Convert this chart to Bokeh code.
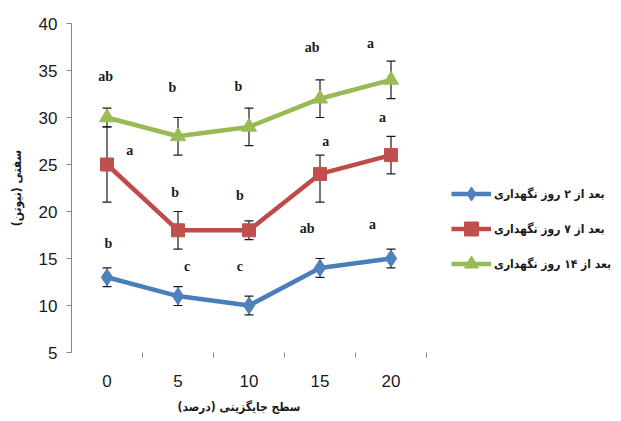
from bokeh.plotting import figure
from bokeh.models import (ColumnDataSource, Whisker, TeeHead, Legend, LegendItem,
                          FixedTicker, Range1d, Title)
from bokeh.core.properties import value
from bokeh.embed import file_html
from bokeh.resources import INLINE

# Replacement level (%) on the x axis
levels = [0, 5, 10, 15, 20]

# Firmness (N) after 2, 7 and 14 days of storage, with error bars
day2 = [13, 11, 10, 14, 15]
day2_err_lo = [1, 1, 1, 1, 1]
day2_err_hi = [1, 1, 1, 1, 1]

day7 = [25, 18, 18, 24, 26]
day7_err_lo = [4, 2, 1, 3, 2]
day7_err_hi = [4, 2, 1, 2, 2]

day14 = [30, 28, 29, 32, 34]
day14_err_lo = [1, 2, 2, 2, 2]
day14_err_hi = [1, 2, 2, 2, 2]

# Significance letters
day2_letters = ["b", "c", "c", "ab", "a"]
day7_letters = ["a", "b", "b", "a", "a"]
day14_letters = ["ab", "b", "b", "ab", "a"]

series_names = ["بعد از ۲ روز نگهداری", "بعد از ۷ روز نگهداری", "بعد از ۱۴ روز نگهداری"]
x_title = "سطح جایگزینی (درصد)"
y_title = "سفتی (نیوتن)"

# Placement of each letter relative to its point (x in %, y in N)
day2_dx = [0.1, 0.65, -0.65, -0.9, -1.3]
day2_dy = [3.6, 3.1, 4.2, 4.2, 3.6]
day7_dx = [1.6, -0.2, -0.65, 0.4, -0.6]
day7_dy = [1.5, 4.0, 3.7, 3.4, 4.05]
day14_dx = [-0.1, -0.4, -0.75, -0.55, -1.45]
day14_dy = [4.4, 5.2, 4.3, 5.4, 3.9]

NUM_FONT = "Liberation Sans Narrow, Liberation Sans, sans-serif"
FA_FONT = "DejaVu Sans Condensed, DejaVu Sans"

# The plotting area spans the legend column too; the data occupy -2.5..22.5
p = figure(width=621, height=421, output_backend="svg", toolbar_location=None,
           x_range=Range1d(-2.5, 35.88), y_range=Range1d(5, 40),
           min_border_left=71, min_border_right=5, min_border_top=23,
           min_border_bottom=69)
p.outline_line_color = None
p.grid.visible = False
p.background_fill_color = "white"
p.border_fill_color = "white"

# x axis: labels at the levels, small ticks between them, no axis line
xa = p.xaxis[0]
xa.ticker = FixedTicker(ticks=levels, minor_ticks=[2.5, 7.5, 12.5, 17.5, 22.5])
xa.axis_line_color = None
xa.major_tick_line_color = None
xa.major_tick_out = 0
xa.major_tick_in = 0
xa.minor_tick_line_color = "#868686"
xa.minor_tick_out = 5
xa.minor_tick_in = 0
xa.major_label_text_font = NUM_FONT
xa.major_label_text_font_size = "17px"
xa.major_label_text_color = "#1a1a1a"
xa.major_label_standoff = 17

p.add_layout(Title(text=x_title, align="left", offset=106, standoff=16,
                   text_font=FA_FONT, text_font_size="12px", text_font_style="bold",
                   text_color="#1a1a1a"), "below")

ya = p.yaxis[0]
ya.ticker = FixedTicker(ticks=[5, 10, 15, 20, 25, 30, 35, 40])
ya.axis_line_color = "#868686"
ya.major_tick_line_color = "#868686"
ya.major_tick_out = 5
ya.major_tick_in = 0
ya.minor_tick_line_color = None
ya.major_label_text_font = NUM_FONT
ya.major_label_text_font_size = "17px"
ya.major_label_text_color = "#1a1a1a"
ya.major_label_standoff = 9
ya.axis_label = y_title
ya.axis_label_text_font = FA_FONT
ya.axis_label_text_font_size = "12px"
ya.axis_label_text_font_style = "bold"
ya.axis_label_text_color = "#1a1a1a"
ya.axis_label_standoff = 12

series = [
    (day2, day2_err_lo, day2_err_hi, day2_letters, day2_dx, day2_dy,
     "#4A7EBB", "#4F81BD", "diamond", 17),
    (day7, day7_err_lo, day7_err_hi, day7_letters, day7_dx, day7_dy,
     "#BE4B48", "#C0504D", "square", 13),
    (day14, day14_err_lo, day14_err_hi, day14_letters, day14_dx, day14_dy,
     "#98B954", "#9BBB59", "triangle", 15),
]

items = []
for (vals, lo, hi, letters, dx, dy, lcol, mcol, marker, msize), name in zip(series, series_names):
    src = ColumnDataSource(dict(
        x=levels, y=vals,
        lower=[v - e for v, e in zip(vals, lo)],
        upper=[v + e for v, e in zip(vals, hi)],
    ))
    whisk = Whisker(source=src, base="x", upper="upper", lower="lower",
                    dimension="height", line_color="#1a1a1a", line_width=1.2,
                    upper_head=TeeHead(size=9, line_color="#1a1a1a", line_width=1.2),
                    lower_head=TeeHead(size=9, line_color="#1a1a1a", line_width=1.2))
    p.add_layout(whisk)
    ln = p.line("x", "y", source=src, line_color=lcol, line_width=4.5)
    mk = p.scatter("x", "y", source=src, marker=marker, size=msize,
                   fill_color=mcol, line_color=mcol)
    items.append(LegendItem(label=name, renderers=[ln, mk]))

    lab_src = ColumnDataSource(dict(
        x=[l + d for l, d in zip(levels, dx)],
        y=[v + d for v, d in zip(vals, dy)],
        t=letters,
    ))
    p.text("x", "y", text="t", source=lab_src, text_font=value("Liberation Serif"),
           text_font_style="bold", text_font_size="14px", text_color="#1a1a1a",
           text_align="center", text_baseline="middle")

# Legend sits to the right of the data
legend = Legend(items=items, location=(380, 71), orientation="vertical",
                border_line_color=None, background_fill_alpha=0,
                label_text_font=FA_FONT, label_text_font_size="12px",
                label_text_font_style="bold", label_text_color="#1a1a1a",
                glyph_width=40, glyph_height=35, label_height=20,
                spacing=0, padding=5, margin=0, label_standoff=3)
p.add_layout(legend, "center")

open("out.html", "w").write(file_html(p, INLINE))
